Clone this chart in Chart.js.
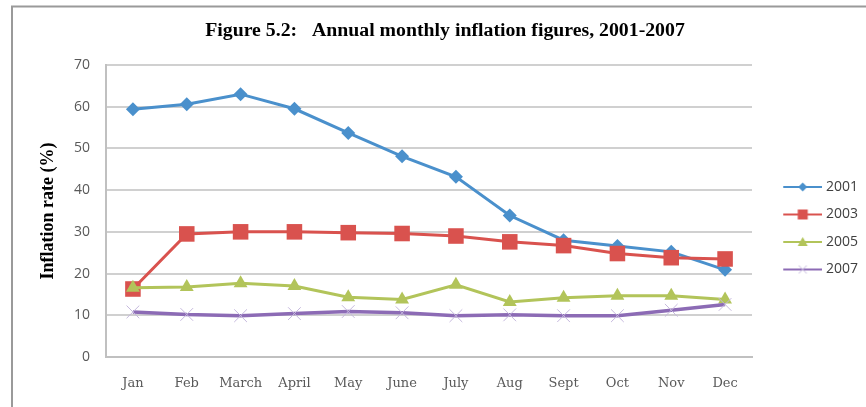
<!DOCTYPE html>
<html>
<head>
<meta charset="utf-8">
<script src="https://cdn.jsdelivr.net/npm/chart.js@4/dist/chart.umd.min.js"></script>
<style>
  html, body { margin: 0; padding: 0; background: #ffffff; }
  #wrap { width: 866px; height: 407px; position: relative; }
</style>
</head>
<body>
<div id="wrap"><canvas id="c" width="866" height="407"></canvas></div>
<script>
const months = ['Jan', 'Feb', 'March', 'April', 'May', 'June', 'July', 'Aug', 'Sept', 'Oct', 'Nov', 'Dec'];
const seriesNames = ['2001', '2003', '2005', '2007'];
const infl2001 = [59.4, 60.6, 63.0, 59.5, 53.7, 48.1, 43.2, 33.9, 28.0, 26.6, 25.2, 20.9];
const infl2003 = [16.3, 29.5, 30.0, 30.0, 29.8, 29.6, 29.0, 27.6, 26.7, 24.8, 23.8, 23.5];
const infl2005 = [16.6, 16.8, 17.7, 17.0, 14.3, 13.8, 17.3, 13.2, 14.2, 14.7, 14.7, 13.8];
const infl2007 = [10.8, 10.2, 9.9, 10.4, 10.9, 10.6, 9.9, 10.1, 9.9, 9.9, 11.2, 12.6];
const yTicks = [0, 10, 20, 30, 40, 50, 60, 70];
const chartTitle = 'Figure 5.2:   Annual monthly inflation figures, 2001-2007';
const yTitle = 'Inflation rate (%)';

const colors = ['#4A90CC', '#D9524E', '#B2C45A', '#8C6BB5'];
const markerColors = ['#4A90CC', '#D9524E', '#B2C45A', '#C5B8DD'];
const styles = ['rectRot', 'rect', 'triangle', 'crossRot'];

function makeIcon(i) {
  const cv = document.createElement('canvas');
  cv.width = 60; cv.height = 16;
  const g = cv.getContext('2d');
  g.strokeStyle = colors[i];
  g.lineWidth = 2;
  g.beginPath(); g.moveTo(21, 8); g.lineTo(60, 8); g.stroke();
  const cx = 40.5, cy = 8;
  g.fillStyle = markerColors[i];
  g.strokeStyle = markerColors[i];
  if (styles[i] === 'rectRot') {
    g.beginPath(); g.moveTo(cx, cy - 4.5); g.lineTo(cx + 4.5, cy); g.lineTo(cx, cy + 4.5); g.lineTo(cx - 4.5, cy); g.closePath(); g.fill();
  } else if (styles[i] === 'rect') {
    g.fillRect(cx - 5, cy - 5, 10, 10);
  } else if (styles[i] === 'triangle') {
    g.beginPath(); g.moveTo(cx, cy - 5); g.lineTo(cx + 5, cy + 4); g.lineTo(cx - 5, cy + 4); g.closePath(); g.fill();
  } else {
    g.lineWidth = 1;
    g.beginPath(); g.moveTo(cx - 4, cy - 4); g.lineTo(cx + 4, cy + 4); g.moveTo(cx + 4, cy - 4); g.lineTo(cx - 4, cy + 4); g.stroke();
  }
  return cv;
}
const icons = seriesNames.map((_, i) => makeIcon(i));

const frame = {
  id: 'frame',
  beforeDraw(chart) {
    const ctx = chart.ctx;
    ctx.save();
    ctx.strokeStyle = '#9A9A9A';
    ctx.lineWidth = 2;
    ctx.beginPath();
    ctx.moveTo(12, 407); ctx.lineTo(12, 6.5); ctx.lineTo(866, 6.5);
    ctx.stroke();
    ctx.restore();
  }
};

const allData = [infl2001, infl2003, infl2005, infl2007];
const radii = [7, 11, 8, 9];
const datasets = seriesNames.map((name, i) => ({
  label: name,
  data: allData[i],
  borderColor: colors[i],
  backgroundColor: markerColors[i],
  borderWidth: i === 3 ? 3.5 : 3,
  pointStyle: styles[i],
  pointRadius: radii[i],
  pointHoverRadius: radii[i],
  pointBackgroundColor: markerColors[i],
  pointBorderColor: markerColors[i],
  pointBorderWidth: i === 3 ? 1 : 0,
  tension: 0,
  order: 4 - i
}));

new Chart(document.getElementById('c'), {
  type: 'line',
  data: { labels: months, datasets: datasets },
  plugins: [frame],
  options: {
    responsive: false,
    animation: false,
    devicePixelRatio: 1,
    layout: { padding: { left: 24, right: 0, top: 0, bottom: 15.2 } },
    plugins: {
      title: {
        display: true,
        text: chartTitle,
        color: '#000000',
        font: { family: 'Liberation Serif', weight: 'bold', size: 19.8 },
        padding: { top: 19.1, bottom: 22.1 }
      },
      legend: {
        display: true,
        position: 'right',
        fullSize: false,
        maxWidth: 114,
        title: { display: true, text: '', font: { size: 12 }, padding: { top: 10, bottom: 10.1 } },
        labels: {
          usePointStyle: true,
          pointStyleWidth: 53.5,
          padding: 13.5,
          color: '#404040',
          font: { family: 'Open Sans', size: 14 },
          generateLabels(chart) {
            const items = Chart.defaults.plugins.legend.labels.generateLabels(chart);
            items.forEach((it) => { it.pointStyle = icons[it.datasetIndex]; });
            return items.sort((a, b) => a.datasetIndex - b.datasetIndex);
          }
        }
      },
      tooltip: { enabled: false }
    },
    scales: {
      x: {
        type: 'category',
        offset: true,
        grid: { display: true, drawOnChartArea: false, drawTicks: true, tickLength: 19.2, color: 'rgba(0,0,0,0)' },
        border: { display: true, color: '#C0C0C0', width: 2 },
        ticks: {
          color: '#595959',
          padding: 0,
          maxRotation: 0,
          autoSkip: false,
          font: { family: 'DejaVu Serif', size: 13 }
        }
      },
      y: {
        min: 0,
        max: 70,
        afterBuildTicks(scale) { scale.ticks = yTicks.map(v => ({ value: v })); },
        grid: { color: '#D0D0D0', lineWidth: 2, drawTicks: true, tickLength: 16, tickColor: 'rgba(0,0,0,0)' },
        border: { display: true, color: '#C0C0C0', width: 2 },
        ticks: {
          color: '#595959',
          padding: 0,
          font: { family: 'Open Sans', size: 14 }
        },
        title: {
          display: true,
          text: yTitle,
          color: '#000000',
          font: { family: 'Liberation Serif', weight: 'bold', size: 18 },
          padding: { top: 13.2, bottom: 15.2 }
        }
      }
    }
  }
});
</script>
</body>
</html>
